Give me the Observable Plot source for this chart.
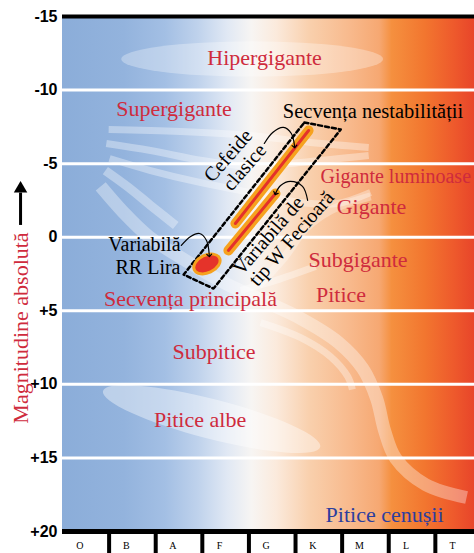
<!DOCTYPE html>
<html><head><meta charset="utf-8">
<script src="https://cdn.jsdelivr.net/npm/d3@7"></script>
<script src="https://cdn.jsdelivr.net/npm/@observablehq/plot@0.6"></script>
<style>html,body{margin:0;padding:0;background:#fff;overflow:hidden}</style>
</head><body><div id="chart"></div>
<script>
// ---- data (spectral index on x, absolute magnitude on y) ----
const spectralClasses = ["O","B","A","F","G","K","M","L","T"];
const magnitudeTicks = [-15,-10,-5,0,5,10,15,20];
const gridMagnitudes = [-10,-5,0,5,10,15];
const backgroundStops = [
  [0,"#8badd9"],[0.15,"#93b3dd"],[0.25,"#a3bfe4"],[0.33,"#bfd2ec"],[0.40,"#e0e8f4"],
  [0.46,"#f7f5f3"],[0.52,"#fbeadc"],[0.60,"#f9d0ad"],[0.70,"#f8b98c"],[0.77,"#f6a872"],
  [0.80,"#f5903f"],[0.88,"#f2762f"],[0.95,"#ee5a2c"],[1,"#e8452a"]
];
const hypergiantZone = [{x1:1.27,y1:-12.08,x2:6.89,y2:-12.08,halfWidth:1.2}];
const whiteDwarfZone = [{x1:0.88,y1:10.49,x2:5.54,y2:14.29,halfWidth:1.35}];
const rrLyraeZone = [{x1:2.84,y1:2.25,x2:3.38,y2:1.45,halfWidth:0.6}];

const trackA = [[0.99,-7.32],[2.53,-7.18],[4.03,-6.91],[5.32,-6.44],[6.57,-6.10]];
const trackB = [[0.94,-6.37],[1.89,-5.89],[3.00,-5.21],[4.03,-4.81],[5.11,-5.08],[6.57,-5.55]];
const trackC = [[1.01,-5.35],[1.89,-4.53],[2.85,-3.79],[4.03,-3.04],[5.11,-2.36],[5.90,-2.29],[6.61,-3.04]];
const trackD = [[0.92,-4.53],[1.42,-3.38],[1.89,-2.16],[2.43,-0.80]];
const mainSequence = [[0.82,-3.45],[1.29,-1.75],[1.85,-0.05],[2.64,1.58],[3.50,3.15],[4.29,4.30],[5.11,5.52],[5.92,7.15],[6.44,8.92],[6.74,10.96],[6.91,13.14],[7.15,15.04],[7.79,16.81],[8.67,17.69]];
const subdwarfBranch = [[4.25,5.80],[5.11,6.82],[5.75,8.11],[6.12,9.47],[6.22,10.35]];
const subgiantBranch = [[3.82,3.62],[4.57,2.94],[5.43,1.99]];
const giantBranch = [[4.21,3.28],[4.74,1.45],[5.22,-0.59],[5.75,-1.82],[6.61,-2.77]];

const instabilityStrip = [[5.19,-7.80],[5.97,-7.32],[3.24,3.49],[2.60,2.54],[5.19,-7.80]];
const cepheidStrip = [[5.28,-7.25],[3.71,-0.93]];
const wVirginisStrip = [[4.57,-2.97],[3.56,0.90]];
const arrowRR = [[2.55,0.56],[2.75,-0.05],[2.94,-0.25],[3.09,0.22],[3.15,1.24]];
const arrowCepheid = [[4.33,-6.37],[4.51,-7.12],[4.74,-7.46],[4.91,-7.05],[4.98,-6.16]];
const arrowWVir = [[5.26,-2.50],[5.15,-3.45],[4.89,-3.79],[4.68,-3.51],[4.57,-2.97]];
const axisArrow = {x:-0.90, y1:-0.8, y2:-3.0, tip:-3.3};

const redLabels = [
  {text:"Hipergigante", x:4.335, y:-12.21},
  {text:"Supergigante", x:2.393, y:-8.75},
  {text:"Gigante", x:6.631, y:-2.08},
  {text:"Subgigante", x:6.341, y:1.55},
  {text:"Pitice", x:5.976, y:3.94},
  {text:"Secvența principală", x:2.747, y:4.17},
  {text:"Subpitice", x:3.251, y:7.77},
  {text:"Pitice albe", x:2.951, y:12.39}
];
const luminousGiantsLabel = {text:"Gigante luminoase", x:5.536, y:-4.10};
const brownDwarfLabel = {text:"Pitice cenușii", x:6.910, y:18.89};
const instabilityLabel = {text:"Secvența nestabilității", x:6.663, y:-8.54};
const rrLabels = [{text:"Variabilă", x:2.532, y:0.47},{text:"RR Lira", x:2.532, y:2.06}];
const rotatedLabels = [
  {text:"Cefeide", x:3.552, y:-5.55},
  {text:"clasice", x:3.906, y:-4.76},
  {text:"Variabilă de", x:4.421, y:-0.12},
  {text:"tip W Fecioară", x:4.914, y:0.09}
];
const yLabel = {text:"Magnitudine absolută", y:6.17};

// ---- helpers ----
const pts = (arr) => arr.map(([x,y]) => ({x,y}));
function ellipses(data, style) {
  return (index, scales) => {
    const g = d3.create("svg:g");
    for (const d of data) {
      const x1 = scales.x(d.x1), y1 = scales.y(d.y1), x2 = scales.x(d.x2), y2 = scales.y(d.y2);
      const cx = (x1+x2)/2, cy = (y1+y2)/2;
      const ry = Math.abs(scales.y(d.halfWidth) - scales.y(0));
      g.append("ellipse").attr("cx",cx).attr("cy",cy)
        .attr("rx",Math.hypot(x2-x1,y2-y1)/2).attr("ry",ry)
        .attr("transform",`rotate(${Math.atan2(y2-y1,x2-x1)*180/Math.PI} ${cx} ${cy})`)
        .attr("fill",style.fill).attr("fill-opacity",style.fillOpacity ?? 1)
        .attr("stroke",style.stroke ?? "none").attr("stroke-width",style.strokeWidth ?? 0);
    }
    return g.node();
  };
}
const RED = "#cf2b3d", SERIF = "Liberation Serif";
const band = (arr, w, op=0.35) => Plot.line(pts(arr), {x:"x", y:"y", stroke:"white", strokeOpacity:op, strokeWidth:w, curve:"catmull-rom", strokeLinecap:"butt"});
const arrowLine = (arr) => Plot.line(pts(arr), {x:"x", y:"y", stroke:"black", strokeWidth:1.2, curve:"catmull-rom", markerEnd:"arrow"});

const svg = Plot.plot({
  width: 474, height: 553,
  marginTop: 16, marginBottom: 22, marginLeft: 62, marginRight: 0,
  x: {domain:[0, 8.84], range:[62, 474], axis: null},
  y: {domain:[-15, 20], range:[16, 531], axis: null},
  style: {background: "white"},
  marks: [
    Plot.rect([{}], {x1: () => 0, x2: () => 8.84, y1: () => -15, y2: () => 20, fill: "url(#hrBg)"}),
    ellipses(hypergiantZone, {fill:"white", fillOpacity:0.3}),
    ellipses(whiteDwarfZone, {fill:"white", fillOpacity:0.4}),
    band(trackA, 7), band(trackB, 7), band(trackC, 7), band(trackD, 9),
    band(mainSequence, 13), band(subdwarfBranch, 7), band(subgiantBranch, 7), band(giantBranch, 8, 0.3),
    Plot.ruleY(gridMagnitudes, {stroke:"white", strokeWidth:3}),
    Plot.ruleY([-15], {stroke:"black", strokeWidth:4}),
    Plot.ruleY([20], {stroke:"black", strokeWidth:5}),
    Plot.ruleX(d3.range(1, spectralClasses.length), {x: d => d, y1: () => 20, y2: () => 21.6, stroke:"black", strokeWidth:4}),
    Plot.text(spectralClasses, {x: (d,i) => i + 0.37, y: () => 20.95, text: d => d, fontFamily: SERIF, fontSize: 10, fill:"black"}),
    Plot.text(magnitudeTicks, {frameAnchor:"left", y: d => d, text: d => d > 0 ? "+" + d : String(d), dx:-5, textAnchor:"end", fontFamily:"Liberation Sans", fontWeight:"bold", fontSize:16, fill:"black", letterSpacing:"-0.5px"}),
    Plot.text([yLabel], {frameAnchor:"left", y:"y", text:"text", dx:-42, rotate:-90, textAnchor:"middle", fontFamily:SERIF, fontSize:22, fill:RED}),
    Plot.ruleX([axisArrow], {x:"x", y1:"y1", y2:"y2", stroke:"black", strokeWidth:3}),
    Plot.dot([axisArrow], {x:"x", y:"tip", symbol:"triangle", r:5, fill:"black"}),
    Plot.line(pts(instabilityStrip), {x:"x", y:"y", stroke:"black", strokeWidth:2.5, strokeDasharray:"4,3", curve:"linear"}),
    Plot.line(pts(cepheidStrip), {x:"x", y:"y", stroke:"#f6a21e", strokeWidth:10, strokeLinecap:"round"}),
    Plot.line(pts(cepheidStrip), {x:"x", y:"y", stroke:"#e4312b", strokeWidth:3, strokeLinecap:"round"}),
    Plot.line(pts(wVirginisStrip), {x:"x", y:"y", stroke:"#f6a21e", strokeWidth:10, strokeLinecap:"round"}),
    Plot.line(pts(wVirginisStrip), {x:"x", y:"y", stroke:"#e4312b", strokeWidth:3, strokeLinecap:"round"}),
    ellipses(rrLyraeZone, {fill:"#e5332a", stroke:"#f6a21e", strokeWidth:3}),
    arrowLine(arrowRR), arrowLine(arrowCepheid), arrowLine(arrowWVir),
    Plot.text(redLabels, {x:"x", y:"y", text:"text", fontFamily:SERIF, fontSize:22, fill:RED}),
    Plot.text([luminousGiantsLabel], {x:"x", y:"y", text:"text", textAnchor:"start", fontFamily:SERIF, fontSize:20, fill:RED}),
    Plot.text([brownDwarfLabel], {x:"x", y:"y", text:"text", fontFamily:SERIF, fontSize:22, fill:"#2c3e9e"}),
    Plot.text([instabilityLabel], {x:"x", y:"y", text:"text", fontFamily:SERIF, fontSize:20.5, fill:"black"}),
    Plot.text(rrLabels, {x:"x", y:"y", text:"text", textAnchor:"end", fontFamily:SERIF, fontSize:20, fill:"black"}),
    Plot.text(rotatedLabels, {x:"x", y:"y", text:"text", rotate:-49, fontFamily:SERIF, fontSize:20, fill:"black"})
  ]
});

const grad = d3.select(svg).insert("defs", ":first-child").append("linearGradient")
  .attr("id", "hrBg").attr("x1", 0).attr("x2", 1).attr("y1", 0).attr("y2", 0);
for (const [o, c] of backgroundStops) grad.append("stop").attr("offset", o).attr("stop-color", c);
document.getElementById("chart").append(svg);
</script>
</body></html>
